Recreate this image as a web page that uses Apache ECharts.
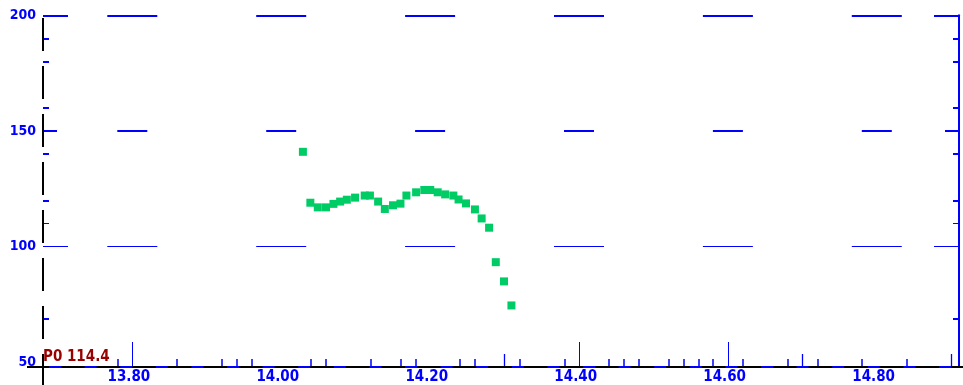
<!DOCTYPE html>
<html><head><meta charset="utf-8">
<script src="https://cdn.jsdelivr.net/npm/echarts@6/dist/echarts.min.js"></script>
<style>html,body{margin:0;padding:0;background:#fff}#c{width:963px;height:385px}</style>
</head><body><div id="c"></div>
<script>
// ---- data ----
const xValues = [14.029, 14.039, 14.049, 14.060, 14.070, 14.079, 14.088, 14.099, 14.112, 14.119,
                 14.130, 14.139, 14.150, 14.160, 14.168, 14.181, 14.192, 14.200, 14.210, 14.220,
                 14.231, 14.238, 14.248, 14.260, 14.269, 14.279, 14.288, 14.299, 14.309];
const yValues = [141.0, 119.0, 117.0, 117.0, 118.5, 119.5, 120.3, 121.2, 122.1, 122.1,
                 119.5, 116.3, 117.9, 118.6, 122.1, 123.5, 124.5, 124.5, 123.5, 122.6,
                 122.1, 120.4, 118.7, 116.1, 112.2, 108.2, 93.3, 85.0, 74.6];
const xLabelValues = [13.8, 14.0, 14.2, 14.4, 14.6, 14.8];
const xTicksLong = [13.8, 14.4, 14.6];
const xTicksMid = [14.3, 14.7, 14.9];
const xTicksShort = [13.78, 13.86, 13.92, 13.94, 13.96, 14.04, 14.06, 14.12, 14.16, 14.18,
                     14.24, 14.26, 14.32, 14.38, 14.44, 14.46, 14.48, 14.52, 14.54, 14.56,
                     14.58, 14.62, 14.68, 14.72, 14.78, 14.84];
const yLabelValues = [50, 100, 150, 200];
const yTicksMajorThick = [200];
const yTicksMajorThin = [100];
const yTicksHalf = [150];
const yTicksMinorThick = [190, 180, 160, 140, 120, 69];
const yTicksMinorThin = [110];
const annotationText = 'P0 114.4';

// ---- style / layout ----
const BLUE = '#0000ff';
const GREEN = '#00cc66';
const FONT = '"Liberation Sans Narrow", "DejaVu Sans Condensed", "Liberation Sans", sans-serif';
const X_MIN = 13.68, X_MAX = 14.91, Y_MIN = 48, Y_MAX = 200;
const W = 963, H = 385;
const GRID = {left: 43, right: 4, top: 15.3, bottom: 18};

function xTickAxis(values, len, width, extra) {
  return Object.assign({
    type: 'value', min: X_MIN, max: X_MAX, position: 'bottom',
    axisLine: {show: false, onZero: false},
    axisTick: {show: true, inside: true, length: len, customValues: values,
               lineStyle: {color: BLUE, width: width}},
    axisLabel: {show: false},
    splitLine: {show: false}
  }, extra || {});
}
function yTickAxis(pos, values, len, width, extra) {
  return Object.assign({
    type: 'value', min: Y_MIN, max: Y_MAX, position: pos,
    axisLine: {show: false, onZero: false},
    axisTick: {show: true, inside: true, length: len, customValues: values,
               lineStyle: {color: BLUE, width: width}},
    axisLabel: {show: false},
    splitLine: {show: false}
  }, extra || {});
}

const xAxes = [
  xTickAxis(xTicksLong, 25, 1, {
    axisLabel: {show: true, customValues: xLabelValues, color: BLUE, fontFamily: FONT,
                fontWeight: 'bold', fontSize: 15, margin: 3, padding: [0, 7, 0, 0],
                formatter: v => v.toFixed(2)}
  }),
  xTickAxis(xTicksMid, 13, 1.3),
  xTickAxis(xTicksShort, 8, 1.5)
];

const yAxes = [];
['left', 'right'].forEach(pos => {
  yAxes.push(yTickAxis(pos, yTicksMajorThick, 25, 2));
  yAxes.push(yTickAxis(pos, yTicksMajorThin, 25, 1));
  yAxes.push(yTickAxis(pos, yTicksHalf, 14, 2));
  yAxes.push(yTickAxis(pos, yTicksMinorThick, 6, 2));
  yAxes.push(yTickAxis(pos, yTicksMinorThin, 6, 1));
});
// labels on the first left axis
yAxes[0].axisLabel = {show: true, customValues: yLabelValues, color: BLUE, fontFamily: FONT,
                      fontWeight: 'bold', fontSize: 14, margin: 7};
// right axis line
yAxes[5].axisLine = {show: true, onZero: false, lineStyle: {color: BLUE, width: 2}};

const points = xValues.map((x, i) => [x, yValues[i]]);

const PERIOD = 148.9; // 0.2 x-units in px
const gridBottomY = H - GRID.bottom;

const option = {
  animation: false,
  backgroundColor: '#fff',
  title: {text: annotationText, left: 43, top: 350, padding: 0,
          textStyle: {color: '#990000', fontSize: 15, fontWeight: 'bold', fontFamily: FONT}},
  grid: {left: GRID.left, right: GRID.right, top: GRID.top, bottom: GRID.bottom, containLabel: false},
  xAxis: xAxes,
  yAxis: yAxes,
  series: [{
    type: 'scatter', xAxisIndex: 0, yAxisIndex: 0,
    symbol: 'rect', symbolSize: 8,
    itemStyle: {color: GREEN, opacity: 1},
    data: points,
    markLine: {
      silent: true, symbol: ['none', 'none'], label: {show: false},
      data: [
        {yAxis: 200, lineStyle: {color: BLUE, width: 2, type: [50, PERIOD - 50], dashOffset: PERIOD - 64.3}},
        {yAxis: 150, lineStyle: {color: BLUE, width: 2, type: [30, PERIOD - 30], dashOffset: PERIOD - 74.3}},
        {yAxis: 100, lineStyle: {color: BLUE, width: 1, type: [50, PERIOD - 50], dashOffset: PERIOD - 64.3}}
      ]
    }
  }],
  graphic: [
    {type: 'line', z: 20, silent: true,
     shape: {x1: GRID.left, y1: GRID.top + 2.7, x2: GRID.left, y2: H},
     style: {stroke: '#000', lineWidth: 2, lineDash: [33, 15]}},
    {type: 'line', z: 21, silent: true,
     shape: {x1: 27, y1: gridBottomY, x2: W, y2: gridBottomY},
     style: {stroke: '#000', lineWidth: 2}},
    {type: 'line', z: 22, silent: true,
     shape: {x1: 49, y1: gridBottomY, x2: W, y2: gridBottomY},
     style: {stroke: BLUE, lineWidth: 2, lineDash: [12, 23.6]}}
  ]
};

const chart = echarts.init(document.getElementById('c'), null, {renderer: 'canvas'});
chart.setOption(option);
</script>
</body></html>
